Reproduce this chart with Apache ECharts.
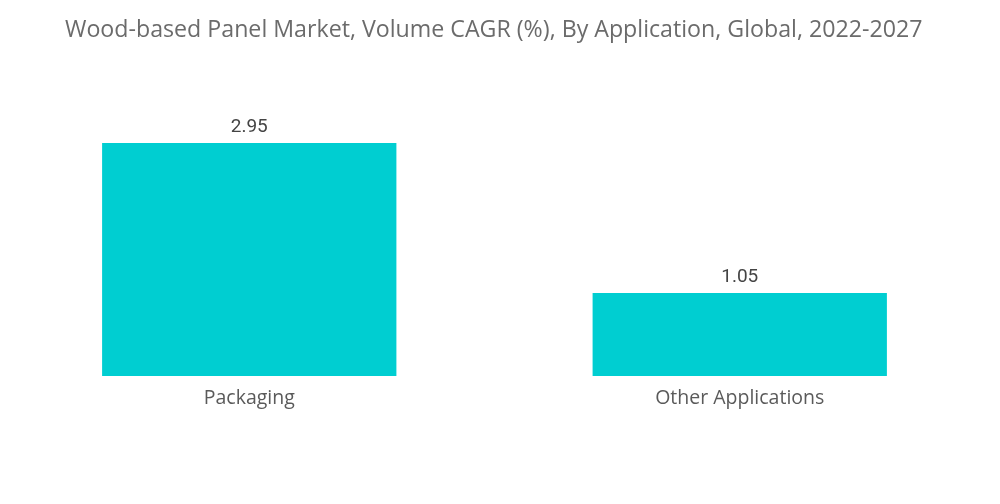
<!DOCTYPE html>
<html>
<head>
<meta charset="utf-8">
<script src="https://cdn.jsdelivr.net/npm/echarts@6/dist/echarts.min.js"></script>
<style>
html,body{margin:0;padding:0;background:#fff;}
#chart{width:1000px;height:504px;}
</style>
</head>
<body>
<div id="chart"></div>
<script>
const titleText = 'Wood-based Panel Market, Volume CAGR (%), By Application, Global, 2022-2027';
const categories = ['Packaging', 'Other Applications'];
const values = [2.95, 1.05];

const chart = echarts.init(document.getElementById('chart'));
chart.setOption({
  backgroundColor: '#ffffff',
  title: {
    text: titleText,
    left: 60,
    top: 14,
    textStyle: { fontFamily: 'Open Sans', fontSize: 23.2, fontWeight: 'normal', color: '#6b6b6b' }
  },
  grid: { left: 4, right: 15, top: 139, bottom: 128, containLabel: false },
  xAxis: {
    type: 'category',
    data: categories,
    axisLine: { show: false },
    axisTick: { show: false },
    axisLabel: { fontFamily: 'Open Sans', fontSize: 19.5, color: '#5a5a5a', margin: 12 }
  },
  yAxis: {
    type: 'value',
    min: 0,
    max: 3,
    show: false,
    splitLine: { show: false }
  },
  series: [{
    type: 'bar',
    data: values,
    barWidth: '60%',
    itemStyle: { color: '#00CED1' },
    label: {
      show: true,
      position: 'top',
      distance: 6,
      fontFamily: 'Roboto',
      fontSize: 19,
      color: '#444444',
      formatter: p => p.value.toFixed(2)
    }
  }]
});
</script>
</body>
</html>
